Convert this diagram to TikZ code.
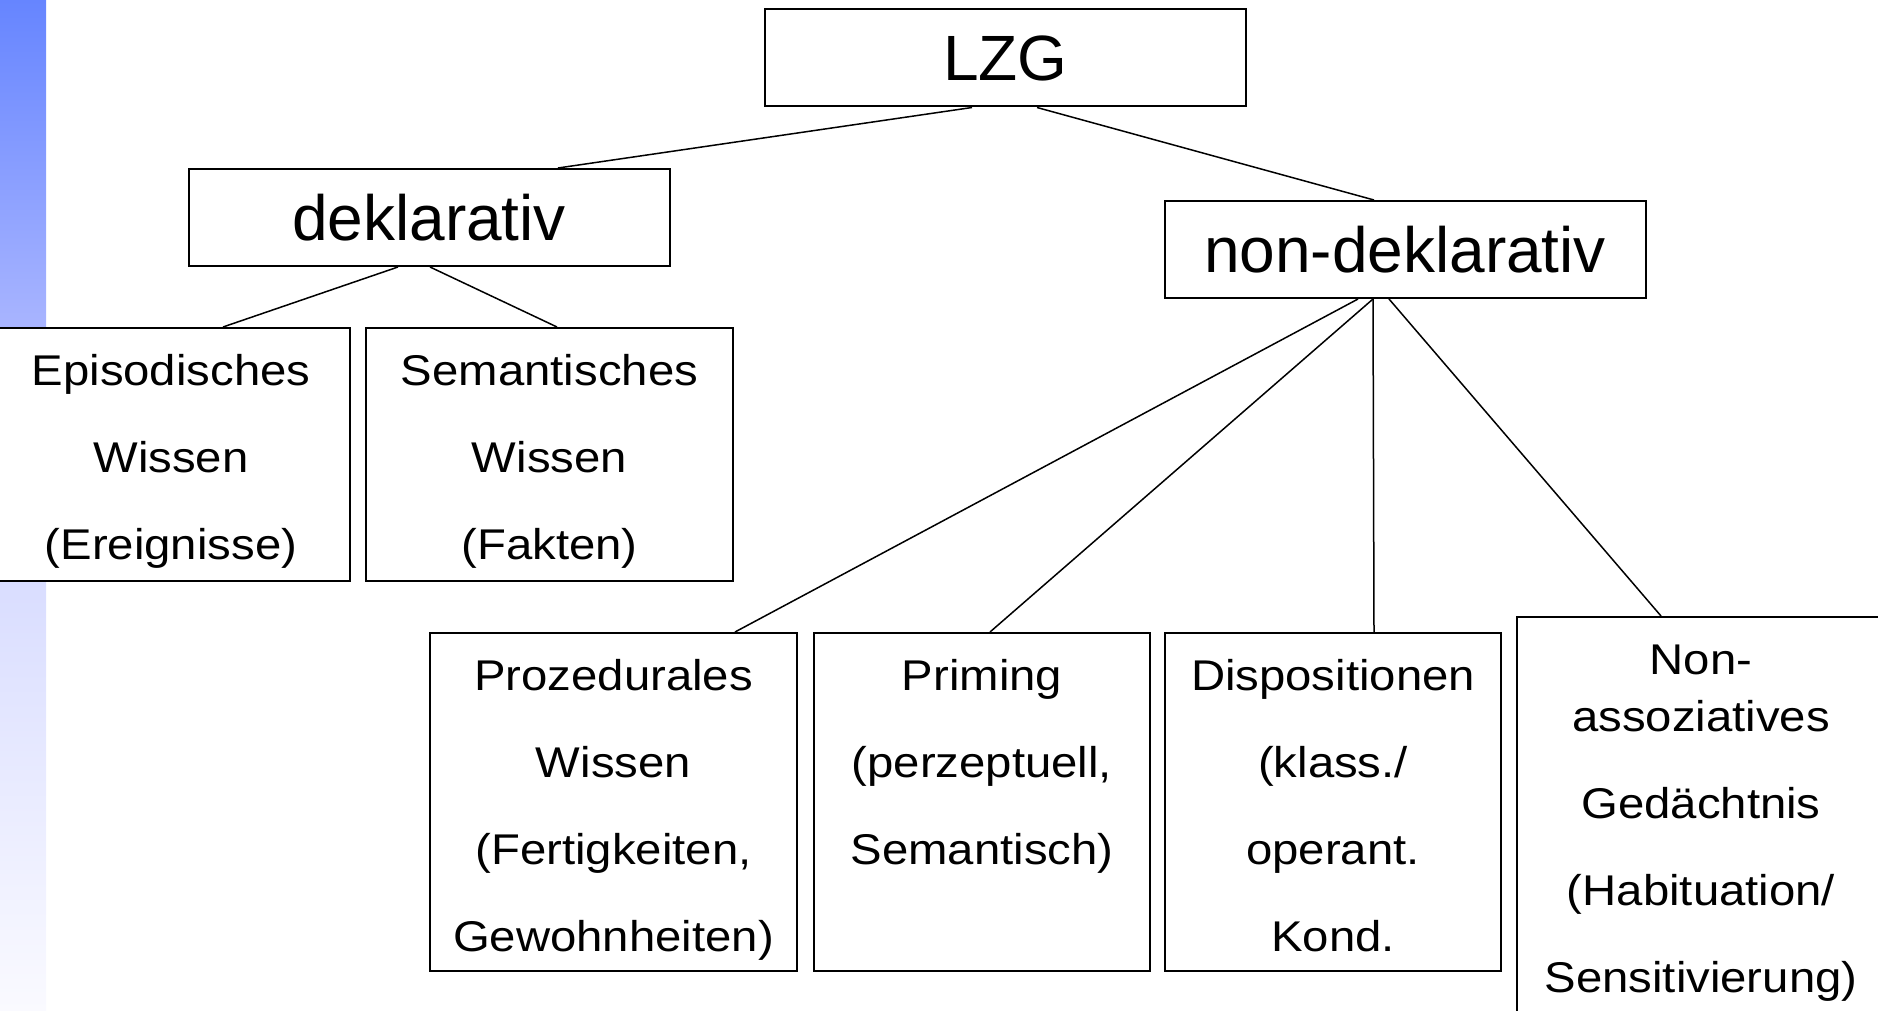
\documentclass[tikz,border=0pt]{standalone}
\usepackage{fontspec}
\setmainfont{Liberation Sans}
\newfontfamily\leaffont[FakeStretch=1.1]{Liberation Sans}
\usetikzlibrary{positioning, calc}
\definecolor{bartop}{HTML}{6685FF}
\definecolor{barmid}{HTML}{A9B5FF}
\definecolor{barlow}{HTML}{D9DDFF}
\definecolor{barbot}{HTML}{FAFAFF}
\newcommand{\leaftext}[3]{\parbox[c][#2][t]{#1}{\centering\rule{0pt}{28.5pt}#3}}

\begin{document}
\begin{tikzpicture}[
    x=0.5pt, y=-0.5pt,
    every node/.style={font=\fontsize{32}{38}\selectfont},
    head/.style={
      rectangle, draw, line width=1pt, fill=white, inner sep=0pt,
      minimum width=240.5pt, minimum height=48.5pt
    },
    leaf/.style={
      rectangle, draw, line width=1pt, fill=white, inner sep=0pt,
      font=\leaffont\fontsize{21.5}{43.5}\selectfont
    },
    link/.style={line width=0.75pt},
  ]

  % ============ Page and side bar ============
  \useasboundingbox (0,0) rectangle (1878,1011);
  \shade[top color=bartop, bottom color=barmid] (0,0) rectangle (46,330);
  \fill[barmid] (0,330) rectangle (46,580);
  \shade[top color=barlow, bottom color=barbot] (0,580) rectangle (46,1011);

  % ============ Upper levels ============
  \node[head] (lzg) at (1005.5,58) {LZG};
  \node[head] (dekl) at (429,217.5) {deklarativ};
  \node[head] (nondekl) at (1405,249.5) {non-deklarativ};

  % ============ Declarative leaves ============
  \node[leaf] (epis) at (171,454.5)
    {\leaftext{179pt}{126.5pt}{Episodisches\\Wissen\\(Ereignisse)}};
  \node[leaf, right=7pt of epis] (sem)
    {\leaftext{183.5pt}{126.5pt}{Semantisches\\Wissen\\(Fakten)}};

  % ============ Non-declarative leaves ============
  \node[leaf] (proz) at (613.5,802)
    {\leaftext{183.5pt}{169pt}{Prozedurales\\Wissen\\(Fertigkeiten,\\Gewohnheiten)}};
  \node[leaf, right=7.5pt of proz] (prim)
    {\leaftext{168pt}{169pt}{Priming\\(perzeptuell,\\Semantisch)}};
  \node[leaf, right=6.5pt of prim] (disp)
    {\leaftext{168pt}{169pt}{Dispositionen\\(klass./\\operant.\\Kond.}};
  \node[leaf, anchor=north west] (nonass) at ($(disp.north east)+(14,-16)$)
    {\leaftext{184pt}{215pt}{Non-\\[-15pt]assoziatives\\Gedächtnis\\(Habituation/\\Sensitivierung)}};

  % ============ Connectors ============
  % LZG -> upper levels
  \draw[link] ($(lzg.south)+(-33.5,0)$) -- ($(dekl.north)+(129,0)$);
  \draw[link] ($(lzg.south)+(31.5,0)$) -- ($(nondekl.north)+(-31,0)$);

  % deklarativ -> leaves
  \draw[link] ($(dekl.south)+(-31,0)$) -- ($(epis.north)+(52,0)$);
  \draw[link] ($(dekl.south)+(1,0)$) -- ($(sem.north)+(7.5,0)$);

  % non-deklarativ -> leaves
  \draw[link] ($(nondekl.south)+(-47,0)$) -- ($(proz.north)+(121.5,0)$);
  \draw[link] ($(nondekl.south)+(-32,0)$) -- ($(prim.north)+(8,0)$);
  \draw[link] ($(nondekl.south)+(-32,0)$) -- ($(disp.north)+(41,0)$);
  \draw[link] ($(nondekl.south)+(-16,0)$) -- ($(nonass.north)+(-40,0)$);

\end{tikzpicture}
\end{document}
